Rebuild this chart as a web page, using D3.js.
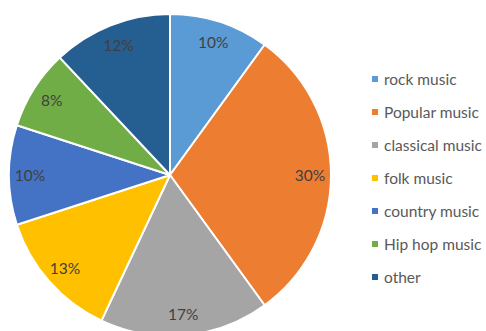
<!DOCTYPE html>
<html>
<head>
<meta charset="utf-8">
<script src="https://cdn.jsdelivr.net/npm/d3@7"></script>
<style>
  html, body { margin: 0; padding: 0; background: #fff; overflow: hidden; }
  svg { display: block; }
  text { font-family: Lato, "Open Sans", sans-serif; }
</style>
</head>
<body>
<svg id="chart" width="486" height="331"></svg>
<script>
const categories = ["rock music", "Popular music", "classical music", "folk music", "country music", "Hip hop music", "other"];
const shares = [10, 30, 17, 13, 10, 8, 12];
const colors = ["#5B9BD5", "#ED7D31", "#A5A5A5", "#FFC000", "#4472C4", "#70AD47", "#255E91"];

const svg = d3.select("#chart");
const cx = 170, cy = 175, radius = 161;

const pie = d3.pie().sort(null).value(d => d.v);
const data = pie(categories.map((c, i) => ({ c, v: shares[i], color: colors[i] })));
const arc = d3.arc().innerRadius(0).outerRadius(radius);
const labelArc = d3.arc().innerRadius(140).outerRadius(140);

const g = svg.append("g").attr("transform", `translate(${cx},${cy})`);

g.selectAll("path.slice")
  .data(data)
  .join("path")
  .attr("class", "slice")
  .attr("d", arc)
  .attr("fill", d => d.data.color)
  .attr("stroke", "#fff")
  .attr("stroke-width", 2)
  .attr("stroke-linejoin", "round");

g.selectAll("text.pct")
  .data(data)
  .join("text")
  .attr("class", "pct")
  .attr("transform", d => `translate(${labelArc.centroid(d)})`)
  .attr("text-anchor", "middle")
  .attr("dominant-baseline", "central")
  .attr("font-size", 15.5)
  .attr("fill", "#404040")
  .text(d => d.data.v + "%");

// Legend
const legendY = d3.scalePoint().domain(categories).range([79, 277]);
const items = svg.append("g")
  .selectAll("g.item")
  .data(categories)
  .join("g")
  .attr("class", "item")
  .attr("transform", c => `translate(372,${legendY(c)})`);

items.append("rect")
  .attr("x", 0).attr("y", -3)
  .attr("width", 6).attr("height", 6)
  .attr("fill", (c, i) => colors[i]);

items.append("text")
  .attr("x", 12)
  .attr("dominant-baseline", "central")
  .attr("font-size", 15.5)
  .attr("fill", "#595959")
  .text(c => c);
</script>
</body>
</html>
